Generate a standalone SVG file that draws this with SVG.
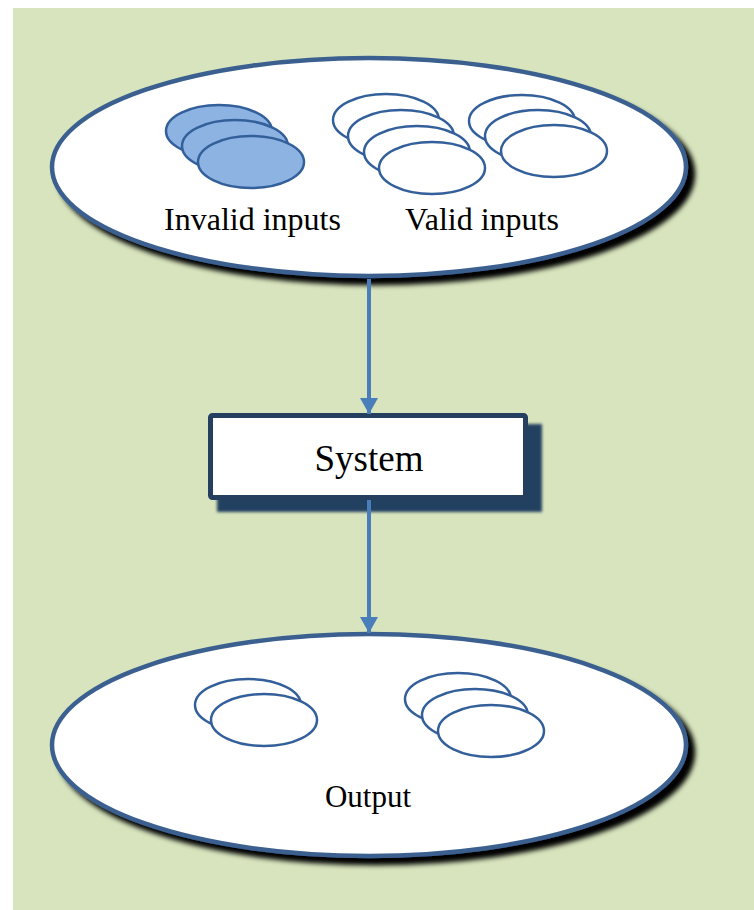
<svg xmlns="http://www.w3.org/2000/svg" width="754" height="910" viewBox="0 0 754 910">
<style>
.big{fill:#fff;stroke:#3b6090;stroke-width:4.5}
.inv{fill:#8db3e2;stroke:#33609a;stroke-width:2.5}
.val{fill:#fff;stroke:#33609a;stroke-width:2.5}
.lbl{font-family:"Liberation Serif","Times New Roman",serif;fill:#000;text-anchor:middle}
.conn{stroke:#4a7ebb;stroke-width:4;fill:none}
</style>
<defs>
<filter id="sh" x="-10%" y="-10%" width="130%" height="140%">
<feGaussianBlur in="SourceAlpha" stdDeviation="2.5"/>
<feOffset dx="7" dy="7" result="b"/>
<feMerge><feMergeNode in="b"/><feMergeNode in="SourceGraphic"/></feMerge>
</filter>
<filter id="bsh" x="-10%" y="-20%" width="130%" height="150%">
<feGaussianBlur stdDeviation="1.5"/>
</filter>
<marker id="ah" markerWidth="16" markerHeight="18" refX="16" refY="9" orient="auto" markerUnits="userSpaceOnUse" viewBox="0 0 16 18">
<path d="M0,0 L16,9 L0,18 Z" fill="#4a7ebb"/>
</marker>
</defs>
<rect x="13" y="8" width="741" height="902" fill="#d7e4bd"/>

<g id="inputs">
<ellipse class="big" cx="369" cy="167" rx="317" ry="109" filter="url(#sh)"/>
<ellipse class="inv" cx="219" cy="131" rx="53" ry="26"/>
<ellipse class="inv" cx="235" cy="146" rx="53" ry="26"/>
<ellipse class="inv" cx="251" cy="162" rx="53" ry="26"/>
<ellipse class="val" cx="386" cy="120" rx="53" ry="26"/>
<ellipse class="val" cx="401" cy="136" rx="53" ry="26"/>
<ellipse class="val" cx="417" cy="152" rx="53" ry="26"/>
<ellipse class="val" cx="432" cy="168" rx="53" ry="26"/>
<ellipse class="val" cx="522" cy="121" rx="53" ry="26"/>
<ellipse class="val" cx="538" cy="136" rx="53" ry="26"/>
<ellipse class="val" cx="554" cy="151" rx="53" ry="26"/>
<text class="lbl" x="252.5" y="230" font-size="32">Invalid inputs</text>
<text class="lbl" x="482" y="230" font-size="32">Valid inputs</text>
</g>

<g id="system">
<rect x="217" y="424" width="325" height="88" fill="#243f60" filter="url(#bsh)"/>
<rect x="210.5" y="415.5" width="315" height="82" rx="2" fill="#fff" stroke="#243f60" stroke-width="5"/>
<text class="lbl" x="369" y="471" font-size="37">System</text>
</g>

<g id="output">
<ellipse class="big" cx="369" cy="745" rx="317" ry="111" filter="url(#sh)"/>
<ellipse class="val" cx="248" cy="705" rx="53" ry="26"/>
<ellipse class="val" cx="264" cy="720" rx="53" ry="26"/>
<ellipse class="val" cx="458" cy="699" rx="53" ry="26"/>
<ellipse class="val" cx="475" cy="715" rx="53" ry="26"/>
<ellipse class="val" cx="491" cy="731" rx="53" ry="26"/>
<text class="lbl" x="368" y="807" font-size="31">Output</text>
</g>

<g id="connectors">
<line class="conn" x1="369" y1="279" x2="369" y2="414" marker-end="url(#ah)"/>
<line class="conn" x1="369" y1="500" x2="369" y2="633" marker-end="url(#ah)"/>
</g>
</svg>
